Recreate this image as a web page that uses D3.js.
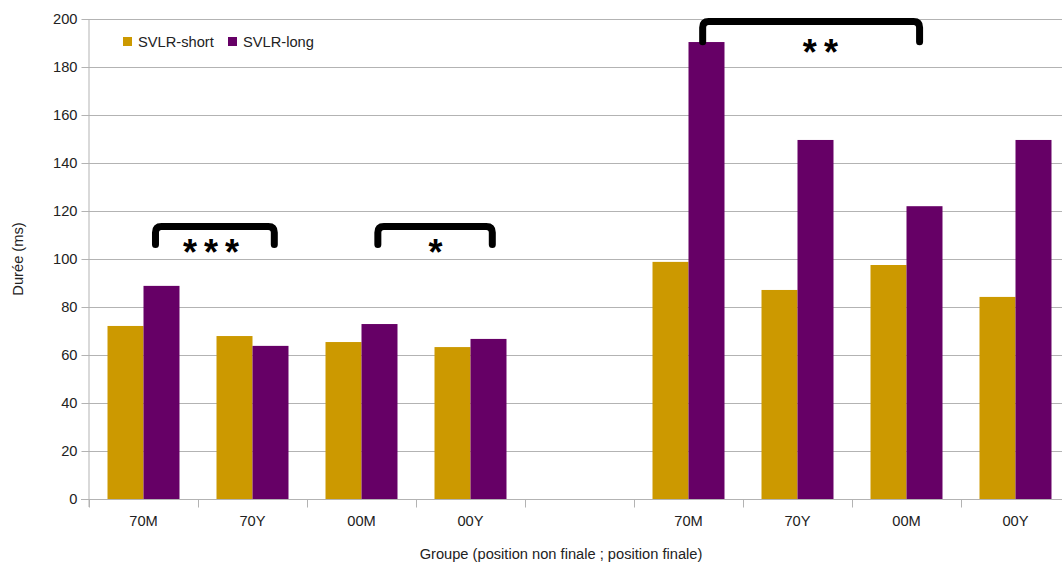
<!DOCTYPE html>
<html><head><meta charset="utf-8">
<script src="https://cdn.jsdelivr.net/npm/d3@7"></script>
<style>body{margin:0;background:#fff}svg{display:block}text{font-family:"Liberation Sans",Arial,sans-serif}</style>
</head><body><svg id="c" width="1062" height="562"></svg>
<script>
const categories = ["70M","70Y","00M","00Y","","70M","70Y","00M","00Y"];
const seriesNames = ["SVLR-short","SVLR-long"];
const shortValues = [72.1,67.9,65.4,63.3,null,98.8,87.1,97.5,84.2];
const longValues  = [88.8,63.8,72.9,66.7,null,190.4,149.6,122.0,149.6];
const yTicks = [0,20,40,60,80,100,120,140,160,180,200];
// significance brackets: x in slot units, yTop/yEnd/yl in ms
const brackets = [
  {x0:0.61, x1:1.70, xl:1.12, yTop:113.5, yEnd:106, yl:104.2, label:"***"},
  {x0:2.65, x1:3.70, xl:3.18, yTop:113.5, yEnd:106, yl:104.2, label:"*"},
  {x0:5.63, x1:7.62, xl:6.71, yTop:199, yEnd:190.5, yl:187.5, label:"**"}
];
const colors = ["#cc9900","#660066"];

const FS = 14.67;
const svg = d3.select("#c");
const L = 89, R = 1070, T = 19, B = 499;
const x = d3.scaleBand().domain(d3.range(categories.length)).range([L,R]);
const xs = d3.scaleLinear().domain([0,categories.length]).range([L,R]);
const xi = d3.scaleBand().domain([0,1]).range([0,x.bandwidth()]).paddingInner(0).paddingOuter(0.514);
const y = d3.scaleLinear().domain([0,200]).range([B,T]);

// gridlines
svg.append("g").selectAll("line").data(yTicks).join("line")
  .attr("x1",L).attr("x2",R).attr("y1",d=>y(d)+0.5).attr("y2",d=>y(d)+0.5)
  .attr("stroke","#b3b3b3").attr("stroke-width",1);

// y axis
const ya = svg.append("g").attr("transform",`translate(${L+0.5},0)`)
  .call(d3.axisLeft(y).tickValues(yTicks).tickSize(8).tickPadding(4));
ya.select(".domain").attr("stroke","#b3b3b3").attr("d",`M-0.5,${T}V${B+8}`).attr("stroke-width",1);
ya.selectAll(".tick line").attr("stroke","#b3b3b3");
ya.selectAll(".tick text").attr("font-size",FS).attr("fill","#222").attr("font-family","Liberation Sans, Arial, sans-serif");

// bars
const groups = svg.append("g").selectAll("g").data(categories.map((c,i)=>({i,vals:[shortValues[i],longValues[i]]})))
  .join("g").attr("transform",d=>`translate(${x(d.i)},0)`);
groups.selectAll("rect").data(d=>d.vals.map((v,k)=>({v,k})).filter(e=>e.v!=null)).join("rect")
  .attr("x",d=>xi(d.k)).attr("width",xi.bandwidth())
  .attr("y",d=>y(d.v)).attr("height",d=>B-y(d.v)).attr("fill",d=>colors[d.k]);

// x axis
const xa = svg.append("g").attr("transform",`translate(0,${B+0.5})`);
xa.append("line").attr("x1",L-8).attr("x2",R).attr("stroke","#b3b3b3");
xa.selectAll("line.tk").data(d3.range(categories.length+1)).join("line").attr("class","tk")
  .attr("x1",d=>Math.round(xs(d))+0.5).attr("x2",d=>Math.round(xs(d))+0.5).attr("y1",0).attr("y2",8).attr("stroke","#b3b3b3");
xa.selectAll("text").data(categories.map((c,i)=>({c,i}))).join("text")
  .attr("x",d=>x(d.i)+x.bandwidth()/2).attr("y",26.5).attr("text-anchor","middle")
  .attr("font-size",FS).attr("fill","#222").text(d=>d.c);

// axis titles
svg.append("text").attr("transform",`translate(23,${(T+B)/2}) rotate(-90)`).attr("text-anchor","middle")
  .attr("font-size",FS).attr("fill","#222").text("Durée (ms)");
svg.append("text").attr("x",561).attr("y",559).attr("text-anchor","middle")
  .attr("font-size",FS).attr("fill","#222").text("Groupe (position non finale ; position finale)");

// legend
const lg = svg.append("g");
const lx = [123,228];
seriesNames.forEach((n,k)=>{
  lg.append("rect").attr("x",lx[k]).attr("y",37).attr("width",9).attr("height",9).attr("fill",colors[k]);
  lg.append("text").attr("x",lx[k]+15).attr("y",47).attr("font-size",FS).attr("fill","#222").text(n);
});

// brackets
const SF = 36;
const bg = svg.append("g");
brackets.forEach(b=>{
  const X0=xs(b.x0), X1=xs(b.x1), YT=y(b.yTop), YE=y(b.yEnd);
  bg.append("path").attr("d",`M${X0},${YE}V${YT+6}Q${X0},${YT} ${X0+6},${YT}H${X1-6}Q${X1},${YT} ${X1},${YT+6}V${YE}`)
    .attr("fill","none").attr("stroke","#000").attr("stroke-width",7).attr("stroke-linecap","round");
  const t = bg.append("text").attr("x",xs(b.xl)).attr("y",y(b.yl)+0.456*SF).attr("text-anchor","middle")
    .attr("font-family","DejaVu Sans, sans-serif").attr("font-weight","bold").attr("font-size",SF)
    .attr("fill","#000");
  b.label.split("").forEach((ch,j)=>{
    t.append("tspan").attr("dx",j? 7:0).text(ch);
  });
});
</script></body></html>
